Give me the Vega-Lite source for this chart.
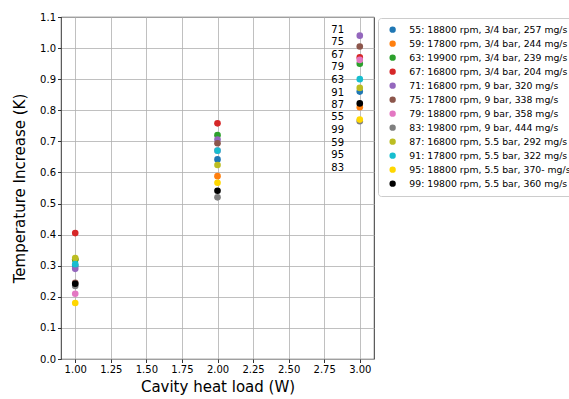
{
  "$schema": "https://vega.github.io/schema/vega-lite/v6.json",
  "autosize": "none",
  "width": 313,
  "height": 342,
  "padding": {"left": 61, "top": 17, "right": 195, "bottom": 40},
  "config": {
    "font": "DejaVu Sans",
    "view": {"stroke": "black", "strokeWidth": 0.8},
    "axis": {
      "labelFont": "DejaVu Sans", "titleFont": "DejaVu Sans",
      "labelFontSize": 10, "labelColor": "black",
      "labelOverlap": false, "labelFlush": false,
      "titleFontSize": 15, "titleFontWeight": "normal", "titleColor": "black",
      "tickColor": "black", "tickSize": 3.5, "tickWidth": 0.8,
      "domain": false,
      "gridColor": "#b0b0b0", "gridWidth": 0.8, "gridOpacity": 1
    }
  },
  "datasets": {
    "pts": [
      {"series": "55", "x": 1, "y": 0.30}, {"series": "55", "x": 2, "y": 0.642}, {"series": "55", "x": 3, "y": 0.86},
      {"series": "59", "x": 1, "y": 0.32}, {"series": "59", "x": 2, "y": 0.588}, {"series": "59", "x": 3, "y": 0.81},
      {"series": "63", "x": 1, "y": 0.32}, {"series": "63", "x": 2, "y": 0.72}, {"series": "63", "x": 3, "y": 0.95},
      {"series": "67", "x": 1, "y": 0.405}, {"series": "67", "x": 2, "y": 0.758}, {"series": "67", "x": 3, "y": 0.97},
      {"series": "71", "x": 1, "y": 0.29}, {"series": "71", "x": 2, "y": 0.706}, {"series": "71", "x": 3, "y": 1.04},
      {"series": "75", "x": 1, "y": 0.245}, {"series": "75", "x": 2, "y": 0.694}, {"series": "75", "x": 3, "y": 1.005},
      {"series": "79", "x": 1, "y": 0.21}, {"series": "79", "x": 2, "y": 0.67}, {"series": "79", "x": 3, "y": 0.962},
      {"series": "83", "x": 1, "y": 0.235}, {"series": "83", "x": 2, "y": 0.52}, {"series": "83", "x": 3, "y": 0.765},
      {"series": "87", "x": 1, "y": 0.325}, {"series": "87", "x": 2, "y": 0.624}, {"series": "87", "x": 3, "y": 0.872},
      {"series": "91", "x": 1, "y": 0.305}, {"series": "91", "x": 2, "y": 0.67}, {"series": "91", "x": 3, "y": 0.90},
      {"series": "95", "x": 1, "y": 0.18}, {"series": "95", "x": 2, "y": 0.567}, {"series": "95", "x": 3, "y": 0.77},
      {"series": "99", "x": 1, "y": 0.242}, {"series": "99", "x": 2, "y": 0.541}, {"series": "99", "x": 3, "y": 0.822}
    ],
    "labels": [
      {"t": "71", "x": 2.8, "y": 1.058},
      {"t": "75", "x": 2.8, "y": 1.018},
      {"t": "67", "x": 2.8, "y": 0.978},
      {"t": "79", "x": 2.8, "y": 0.938},
      {"t": "63", "x": 2.8, "y": 0.897},
      {"t": "91", "x": 2.8, "y": 0.857},
      {"t": "87", "x": 2.8, "y": 0.817},
      {"t": "55", "x": 2.8, "y": 0.777},
      {"t": "99", "x": 2.8, "y": 0.737},
      {"t": "59", "x": 2.8, "y": 0.696},
      {"t": "95", "x": 2.8, "y": 0.656},
      {"t": "83", "x": 2.8, "y": 0.615}
    ]
  },
  "encoding": {
    "x": {"field": "x", "type": "quantitative",
          "scale": {"domain": [0.9, 3.1], "nice": false, "zero": false},
          "axis": {"title": "Cavity heat load (W)", "values": [1, 1.25, 1.5, 1.75, 2, 2.25, 2.5, 2.75, 3], "format": ".2f", "titlePadding": 5}},
    "y": {"field": "y", "type": "quantitative",
          "scale": {"domain": [0, 1.1], "nice": false},
          "axis": {"title": "Temperature Increase (K)", "values": [0, 0.1, 0.2, 0.3, 0.4, 0.5, 0.6, 0.7, 0.8, 0.9, 1.0, 1.1], "format": ".1f", "titlePadding": 12}}
  },
  "layer": [
    {
      "data": {"name": "pts"},
      "mark": {"type": "point", "filled": true, "opacity": 1, "size": 44, "shape": "circle"},
      "encoding": {
        "color": {"field": "series", "type": "nominal",
          "scale": {
            "domain": ["55", "59", "63", "67", "71", "75", "79", "83", "87", "91", "95", "99"],
            "range": ["#1f77b4", "#ff7f0e", "#2ca02c", "#d62728", "#9467bd", "#8c564b", "#e377c2", "#7f7f7f", "#bcbd22", "#17becf", "#ffd700", "#000000"]
          },
          "legend": {
            "title": null,
            "orient": "none", "legendX": 317, "legendY": 1,
            "labelExpr": "{'55':'55: 18800 rpm, 3/4 bar, 257 mg/s','59':'59: 17800 rpm, 3/4 bar, 244 mg/s','63':'63: 19900 rpm, 3/4 bar, 239 mg/s','67':'67: 16800 rpm, 3/4 bar, 204 mg/s','71':'71: 16800 rpm, 9 bar, 320 mg/s','75':'75: 17800 rpm, 9 bar, 338 mg/s','79':'79: 18800 rpm, 9 bar, 358 mg/s','83':'83: 19800 rpm, 9 bar, 444 mg/s','87':'87: 16800 rpm, 5.5 bar, 292 mg/s','91':'91: 17800 rpm, 5.5 bar, 322 mg/s','95':'95: 18800 rpm, 5.5 bar, 370- mg/s','99':'99: 19800 rpm, 5.5 bar, 360 mg/s'}[datum.label]",
            "labelFont": "DejaVu Sans", "labelFontSize": 9.3, "labelColor": "black", "labelLimit": 300,
            "symbolType": "circle", "symbolSize": 40, "symbolStrokeWidth": 0, "symbolOffset": 3,
            "rowPadding": 4, "labelOffset": 12,
            "strokeColor": "#cccccc", "cornerRadius": 3, "padding": 7, "fillColor": "white"
          }
        }
      }
    },
    {
      "data": {"name": "labels"},
      "mark": {"type": "text", "align": "left", "baseline": "middle", "fontSize": 10, "color": "black", "font": "DejaVu Sans"},
      "encoding": {
        "text": {"field": "t", "type": "nominal"}
      }
    }
  ]
}
